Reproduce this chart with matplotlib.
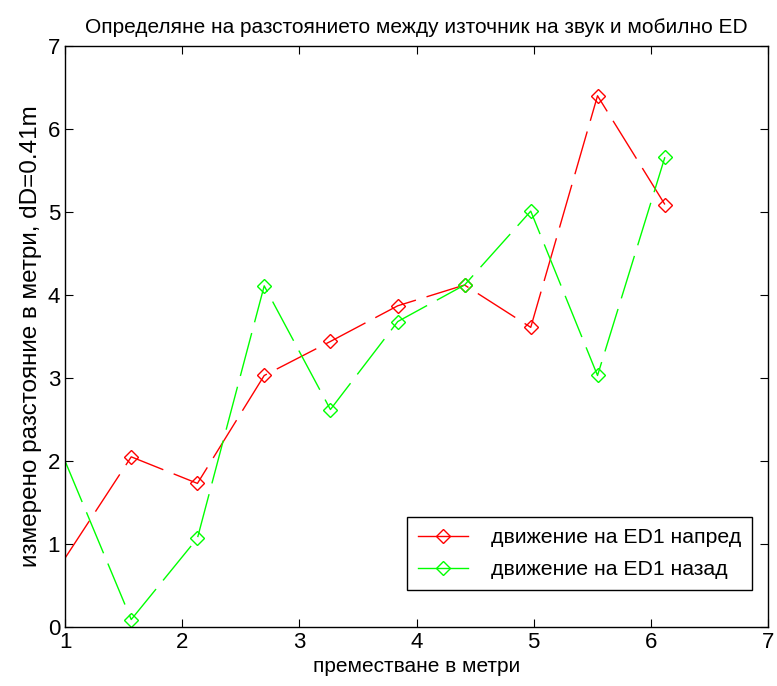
import matplotlib.pyplot as plt
from matplotlib.lines import Line2D

plt.rcParams['font.family'] = ['Liberation Sans', 'DejaVu Sans']

# данни, отчетени от графиката
x = [1.0, 1.565, 2.13, 2.70, 3.265, 3.84, 4.41, 4.975, 5.545, 6.12]
napred = [0.83, 2.05, 1.73, 3.03, 3.44, 3.87, 4.12, 3.61, 6.40, 5.09]
nazad = [2.0, 0.09, 1.07, 4.11, 2.62, 3.68, 4.12, 5.01, 3.03, 5.66]
labels = ['движение на ED1 напред', 'движение на ED1 назад']
colors = ['#ff0000', '#00ff00']

fig = plt.figure(figsize=(7.77, 6.86), dpi=100)
ax = fig.add_axes([0.0837, 0.086, 0.9047, 0.847])

for y, c in zip([napred, nazad], colors):
    ax.plot(x, y, color=c, lw=1, dashes=(32, 8), marker='D', ms=7.2,
            mfc='none', mec=c, mew=1, markevery=list(range(1, len(x))))

ax.set_xlim(1, 7)
ax.set_ylim(0, 7)
ax.set_xticks(range(1, 8))
ax.set_yticks(range(0, 8))
ax.tick_params(direction='in', top=True, right=True, length=6, labelsize=16, width=0.8)
for s in ax.spines.values():
    s.set_linewidth(1)

ax.set_title('Определяне на разстоянието между източник на звук и мобилно ED',
             fontsize=15, pad=9)
ax.set_xlabel('преместване в метри', fontsize=15, labelpad=3)
ax.set_ylabel('измерено разстояние в метри, dD=0.41m', fontsize=17.5, labelpad=4)

handles = [Line2D([], [], color=c, lw=1, marker='D', ms=7.2, mfc='none', mec=c)
           for c in colors]
leg = ax.legend(handles, labels, loc='lower right', bbox_to_anchor=(0.977, 0.064),
                borderaxespad=0, fontsize=15.3, handlelength=2.35, handletextpad=1.08,
                labelspacing=0.62, borderpad=0.5,
                fancybox=False, edgecolor='black', framealpha=1)
leg.get_frame().set_linewidth(1)

fig.savefig('out.png', dpi=100)
